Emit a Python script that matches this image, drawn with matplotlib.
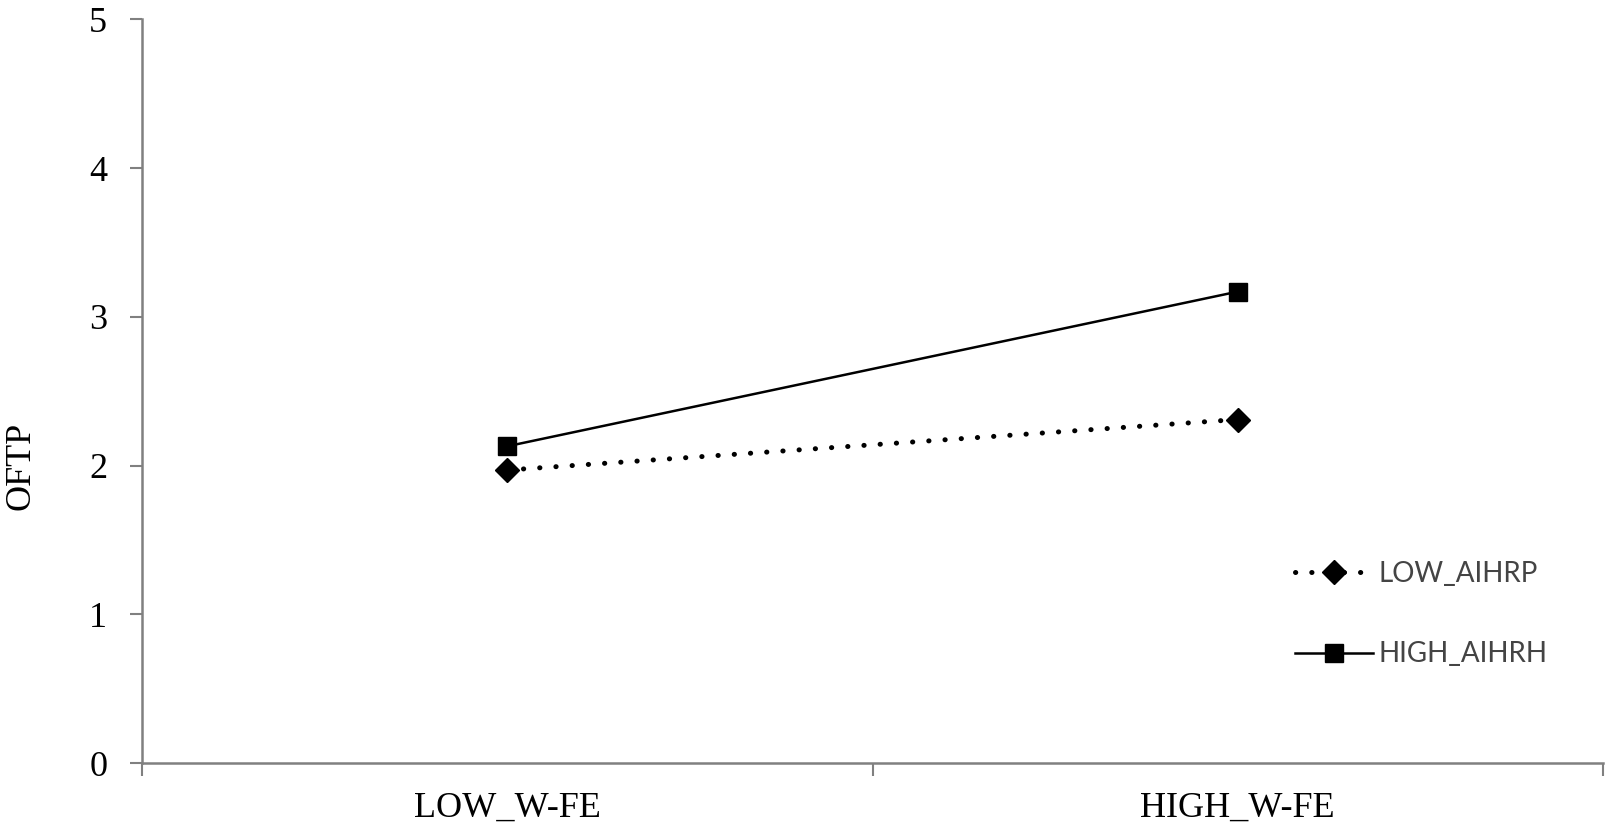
import matplotlib
matplotlib.use("Agg")
import matplotlib.pyplot as plt
from matplotlib.ticker import FixedLocator, NullFormatter

# data
categories = ["LOW_W-FE", "HIGH_W-FE"]
low_aihrp = [1.97, 2.31]
high_aihrh = [2.13, 3.17]
series_names = ["LOW_AIHRP", "HIGH_AIHRH"]
y_ticks = [0, 1, 2, 3, 4, 5]

fig = plt.figure(figsize=(16.1, 8.32), dpi=100)
ax = fig.add_axes([142/1610, 1-763/832, (1603-142)/1610, (763-19.5)/832])

xpos = [0.5, 1.5]
ax.plot(xpos, low_aihrp, color="k", lw=3.6, linestyle=(0, (0.05, 3.2)),
        dash_capstyle="round", marker="D", ms=12, label=series_names[0])
ax.plot(xpos, high_aihrh, color="k", lw=1.8, marker="s", ms=13,
        label=series_names[1])

ax.set_xlim(0, 2)
ax.set_ylim(0, 5)
ax.xaxis.set_major_locator(FixedLocator([0, 1, 2]))
ax.xaxis.set_major_formatter(NullFormatter())
ax.xaxis.set_minor_locator(FixedLocator(xpos))
ax.set_xticklabels(categories, minor=True)
ax.tick_params(axis="x", which="minor", length=0, pad=21)
ax.tick_params(axis="x", which="major", length=9, width=1.5, color="#808080")
ax.set_yticks(y_ticks)
ax.tick_params(axis="y", length=9, width=1.5, color="#808080", pad=16)

for lab in ax.get_xticklabels(minor=True) + ax.get_yticklabels():
    lab.set_fontfamily("Liberation Serif")
    lab.set_fontsize(26)

for s in ["top", "right"]:
    ax.spines[s].set_visible(False)
for s in ["left", "bottom"]:
    ax.spines[s].set_color("#808080")
    ax.spines[s].set_linewidth(1.8)

ax.set_ylabel("OFTP", fontfamily="Liberation Serif", fontsize=26)
ax.yaxis.set_label_coords(-0.083, 0.40)
ax.yaxis.label.set_verticalalignment("center")

leg = ax.legend(loc="upper left", bbox_to_anchor=((1284-142)/1461, 1-(550-19.5)/743.5),
                frameon=False, handlelength=2.8, handletextpad=0.2,
                labelspacing=1.95, borderaxespad=0,
                prop={"family": "Lato", "size": 20})
for t in leg.get_texts():
    t.set_color("#444444")

fig.savefig("out.png", dpi=100)
